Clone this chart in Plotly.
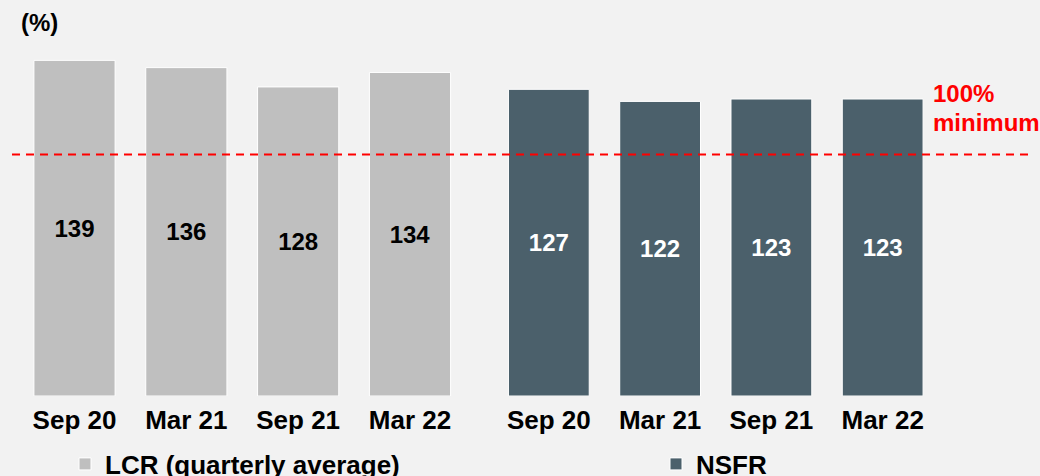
import plotly.graph_objects as go

# Quarter-end reporting dates shared by both ratios
periods = ["Sep 20", "Mar 21", "Sep 21", "Mar 22"]

# Liquidity coverage ratio (quarterly average), %
lcr_values = [139, 136, 128, 134]

# Net stable funding ratio, %
nsfr_values = [127, 122, 123, 123]

# Regulatory floor, %
minimum_level = 100

W, H = 1040, 476
PLOT_BOTTOM = 396  # px from top where the bars sit
FONT = "Liberation Sans, Arial, sans-serif"
LCR_COLOR = "#BFBFBF"
NSFR_COLOR = "#4B606B"
BG = "#F2F2F2"


def py(px):
    """Convert a pixel row (from top) to paper y for this layout."""
    return (PLOT_BOTTOM - px) / PLOT_BOTTOM


def cy(px):
    """Convert a pixel row (from top) to container y."""
    return 1 - px / H


def px_x(px):
    return px / W


fig = go.Figure()

fig.add_trace(go.Bar(
    x=periods, y=lcr_values, name="LCR (quarterly average)",
    xaxis="x", yaxis="y", legend="legend",
    marker=dict(color=LCR_COLOR, line=dict(color="white", width=1)),
    text=[str(v) for v in lcr_values], textposition="inside",
    insidetextanchor="middle",
    textfont=dict(family=FONT, size=24, color="black", weight="bold"),
    hoverinfo="skip",
))

fig.add_trace(go.Bar(
    x=periods, y=nsfr_values, name="NSFR",
    xaxis="x2", yaxis="y", legend="legend2",
    marker=dict(color=NSFR_COLOR, line=dict(color="white", width=1)),
    text=[str(v) for v in nsfr_values], textposition="inside",
    insidetextanchor="middle",
    textfont=dict(family=FONT, size=24, color="white", weight="bold"),
    hoverinfo="skip",
))

tick_font = dict(family=FONT, size=26, color="black", weight="bold")
axis_common = dict(
    type="category", showgrid=False, zeroline=False, showline=False,
    ticks="", tickfont=tick_font, fixedrange=True, automargin=False,
    ticklabelstandoff=6,
)

legend_common = dict(
    orientation="h", yanchor="middle", xanchor="left",
    xref="container", yref="container",
    bgcolor="rgba(0,0,0,0)", borderwidth=0,
    font=dict(family=FONT, size=26, color="black", weight="bold"),
)

fig.update_layout(
    width=W, height=H,
    margin=dict(l=0, r=0, t=0, b=H - PLOT_BOTTOM, autoexpand=False),
    paper_bgcolor=BG, plot_bgcolor=BG,
    bargap=0.274,
    xaxis=dict(domain=[px_x(18.6), px_x(465.9)], anchor="y", **axis_common),
    xaxis2=dict(domain=[px_x(493.2), px_x(938.3)], anchor="y", **axis_common),
    yaxis=dict(range=[0, 164], visible=False, fixedrange=True),
    showlegend=True,
    legend=dict(x=px_x(65), y=cy(464), **legend_common),
    legend2=dict(x=px_x(656), y=cy(464), **legend_common),
    font=dict(family=FONT),
)

# Dashed line marking the 100% regulatory minimum across the full width
fig.add_shape(
    type="line", xref="paper", yref="y",
    x0=px_x(12), x1=px_x(1028), y0=minimum_level, y1=minimum_level,
    line=dict(color="#FF0000", width=2, dash="8px,6px"),
    layer="above",
)

label_font = dict(family=FONT, size=24, color="#FF0000", weight="bold")
fig.add_annotation(text="100%", xref="paper", yref="paper",
                   x=px_x(931), y=py(94), xanchor="left", yanchor="middle",
                   showarrow=False, font=label_font)
fig.add_annotation(text="minimum", xref="paper", yref="paper",
                   x=px_x(931), y=py(122), xanchor="left", yanchor="middle",
                   showarrow=False, font=label_font)

fig.add_annotation(text="(%)", xref="paper", yref="paper",
                   x=px_x(19), y=py(22.5), xanchor="left", yanchor="middle",
                   showarrow=False,
                   font=dict(family=FONT, size=24, color="black", weight="bold"))

fig.write_html("out.html")
